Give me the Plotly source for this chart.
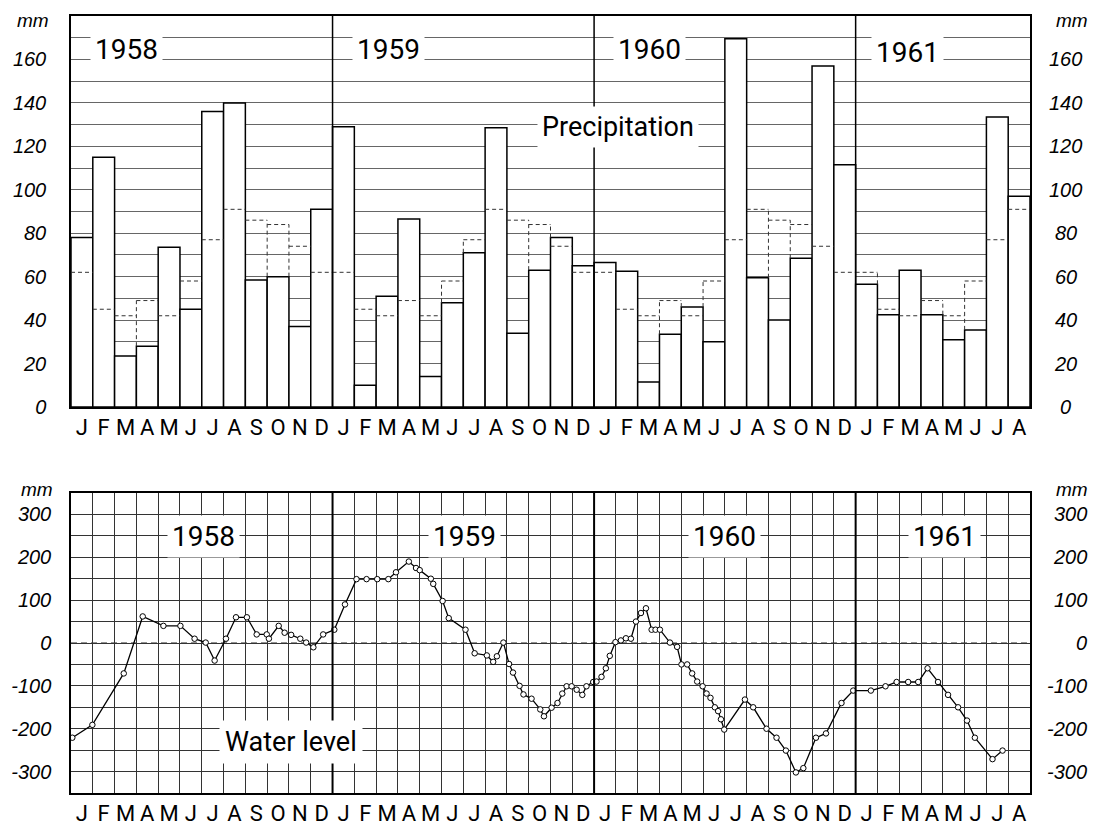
import plotly.graph_objects as go

# ---------------- data ----------------
MONTH_LETTERS = ["J", "F", "M", "A", "M", "J", "J", "A", "S", "O", "N", "D"]
month_labels = MONTH_LETTERS * 3 + MONTH_LETTERS[:8]          # Jan 1958 .. Aug 1961
years = ["1958", "1959", "1960", "1961"]

# monthly precipitation (mm)
precip_mm = [
    78, 115, 23.5, 28, 73.5, 45, 136, 140, 58.5, 60, 37, 91,        # 1958
    129, 10, 51, 86.5, 14, 48, 71, 128.5, 34, 63, 78, 65,           # 1959
    66.5, 62.5, 11.5, 33.5, 46, 30, 169.5, 59.5, 40, 68.5, 157, 111.5,  # 1960
    56.5, 42.5, 63, 42.5, 31, 35.5, 133.5, 97,                      # 1961
]
# long-term monthly normal precipitation (mm), Jan..Dec
normal_mm_by_month = [62, 45, 42, 49, 42, 58, 77, 91, 86, 84, 74, 62]

# water level: position in months since 1 Jan 1958, level in mm
wl_month = [
    0.06, 0.98, 2.42, 3.29, 4.24, 5.02, 5.67, 6.18, 6.59, 7.11, 7.57, 8.07, 8.52, 8.98,
    9.08, 9.53, 9.80, 10.10, 10.52, 10.79, 11.12, 11.57,
    12.08, 12.57, 13.10, 13.56, 14.05, 14.56, 14.91, 15.50, 15.83, 16.00, 16.51, 16.62,
    17.05, 17.33, 18.10, 18.52, 19.08, 19.37, 19.54, 19.84, 20.10, 20.28, 20.58, 20.76,
    21.13, 21.53, 21.70, 22.05, 22.32, 22.54, 22.74, 22.97, 23.20, 23.46, 23.65, 23.96,
    24.11, 24.34, 24.54, 24.72, 24.98, 25.23, 25.46, 25.69, 25.92, 26.15, 26.38, 26.64,
    26.82, 27.02, 27.48, 27.81, 28.01, 28.27, 28.50, 28.73, 28.98, 29.16, 29.34, 29.54,
    29.69, 29.82, 29.97, 30.92, 31.30, 31.91, 32.37, 32.80, 33.26, 33.60, 34.18, 34.64,
    35.35, 35.89, 36.70, 37.37, 37.88, 38.41, 38.87, 39.30, 39.78, 40.24, 40.70, 41.11,
    41.47, 42.28, 42.74,
]
wl_mm = [
    -221, -191, -71, 62, 40, 40, 10, 1, -41, 10, 60, 60, 20, 20,
    10, 40, 24, 19, 10, 1, -10, 20,
    31, 90, 149, 149, 149, 149, 165, 190, 175, 170, 150, 138,
    98, 58, 31, -24, -29, -44, -31, 1, -49, -69, -100, -120,
    -130, -155, -171, -151, -140, -118, -101, -101, -109, -121, -101, -91,
    -90, -79, -59, -30, 2, 6, 11, 10, 50, 70, 81, 31,
    31, 31, 1, -9, -50, -50, -71, -90, -101, -118, -128, -150,
    -159, -178, -202, -132, -150, -200, -221, -251, -302, -292, -221, -211,
    -140, -111, -111, -101, -91, -91, -91, -59, -91, -121, -150, -181,
    -221, -271, -251,
]

precip_ticks = [0, 20, 40, 60, 80, 100, 120, 140, 160]
level_ticks = [-300, -200, -100, 0, 100, 200, 300]

# label anchor positions (month position, value)
top_year_pos = [(2.55, 164.5), (14.55, 164.5), (26.56, 164.5), (38.4, 163)]
low_year_pos = [(6.1, 248), (18.07, 248), (30.0, 248), (40.06, 248)]

# ---------------- figure ----------------
n = len(precip_mm)
month_pos = [i + 0.5 for i in range(n)]
normal_series = [normal_mm_by_month[i % 12] for i in range(n)]
year_bounds = [12 * k for k in range(1, len(years))]

TXT = "Roboto"
NUM = "Liberation Sans"
num_font = dict(family=NUM, size=20, color="black", style="italic")
month_font = dict(family=TXT, size=22, color="black")
year_font = dict(family=TXT, size=28, color="black")


def ital(s):
    return "<i>" + s + "</i>"


fig = go.Figure()

# precipitation bars
fig.add_trace(go.Bar(
    x=month_pos, y=precip_mm, width=1.0,
    marker=dict(color="white", line=dict(color="black", width=1.5)),
    xaxis="x", yaxis="y", hoverinfo="skip",
))

# dashed normal outlines
nx, ny = [], []
for i, nv in enumerate(normal_series):
    nx += [i, i + 1, None]
    ny += [nv, nv, None]
for k in range(1, n):
    bar_top = max(precip_mm[k - 1], precip_mm[k])
    norm_top = max(normal_series[k - 1], normal_series[k])
    if norm_top > bar_top:
        nx += [k, k, None]
        ny += [bar_top, norm_top, None]
fig.add_trace(go.Scatter(
    x=nx, y=ny, mode="lines", connectgaps=False,
    line=dict(color="#333", width=1, dash="4px,3px"),
    xaxis="x", yaxis="y", hoverinfo="skip",
))

# water level line
fig.add_trace(go.Scatter(
    x=wl_month, y=wl_mm, mode="lines+markers",
    line=dict(color="black", width=1.3),
    marker=dict(symbol="circle", size=5.5, color="white", line=dict(color="black", width=1)),
    xaxis="x2", yaxis="y2", hoverinfo="skip",
))

axis_common = dict(showline=True, mirror=True, linecolor="black", linewidth=1.5,
                   ticks="", zeroline=False, automargin=False, fixedrange=True)

fig.update_layout(
    template="none",
    width=1093, height=829,
    margin=dict(l=71, r=63, t=16, b=36),
    paper_bgcolor="white", plot_bgcolor="white",
    showlegend=False,
    xaxis=dict(domain=[0, 1], anchor="y", range=[0, n],
               tickmode="array", tickvals=month_pos, ticktext=month_labels,
               tickfont=month_font, showgrid=False, **axis_common),
    yaxis=dict(domain=[0.4968, 1], anchor="x", range=[0, 180],
               tickmode="array", tickvals=precip_ticks,
               ticktext=[ital(str(v)) for v in precip_ticks],
               tickfont=num_font, ticklabelstandoff=19,
               showgrid=True, gridcolor="#666", gridwidth=1,
               minor=dict(tick0=0, dtick=10, showgrid=True, gridcolor="#666", gridwidth=1),
               **axis_common),
    xaxis2=dict(domain=[0, 1], anchor="y2", range=[0, n],
                tickmode="array", tickvals=month_pos, ticktext=month_labels,
                tickfont=month_font, showgrid=False,
                minor=dict(tick0=0, dtick=1, showgrid=True, gridcolor="#333", gridwidth=1),
                **axis_common),
    yaxis2=dict(domain=[0, 0.3861], anchor="x2", range=[-350, 350],
                tickmode="array", tickvals=level_ticks,
                ticktext=[ital(str(v)) for v in level_ticks],
                tickfont=num_font, ticklabelstandoff=14,
                showgrid=True, gridcolor="#333", gridwidth=1,
                minor=dict(tick0=0, dtick=50, showgrid=True, gridcolor="#333", gridwidth=1),
                **axis_common),
)

shapes = []
# dashed zero line of water level
shapes.append(dict(type="line", xref="x2 domain", yref="y2", x0=0, x1=1, y0=0, y1=0,
                   line=dict(color="white", width=1.5), layer="below"))
shapes.append(dict(type="line", xref="x2 domain", yref="y2", x0=0, x1=1, y0=0, y1=0,
                   line=dict(color="#222", width=1, dash="6px,4px"), layer="below"))
# year boundaries
for b in year_bounds:
    shapes.append(dict(type="line", xref="x", yref="y domain", x0=b, x1=b, y0=0, y1=1,
                       line=dict(color="black", width=1.5), layer="above"))
    shapes.append(dict(type="line", xref="x2", yref="y2 domain", x0=b, x1=b, y0=0, y1=1,
                       line=dict(color="black", width=2), layer="above"))
fig.update_layout(shapes=shapes)

ann = []
for yr, (xp, yp) in zip(years, top_year_pos):
    ann.append(dict(x=xp, y=yp, xref="x", yref="y", text=yr, showarrow=False,
                    font=year_font, bgcolor="white", borderpad=4))
for yr, (xp, yp) in zip(years, low_year_pos):
    ann.append(dict(x=xp, y=yp, xref="x2", yref="y2", text=yr, showarrow=False,
                    font=year_font, bgcolor="white", borderpad=4))
ann.append(dict(x=25.1, y=129, xref="x", yref="y", text="Precipitation", showarrow=False,
                font=dict(family=TXT, size=27, color="black"), bgcolor="white", borderpad=4))
ann.append(dict(x=10.1, y=-232, xref="x2", yref="y2", text="Water level", showarrow=False,
                font=dict(family=TXT, size=27, color="black"), bgcolor="white", borderpad=5))
# "mm" unit labels
mm_font = dict(family=NUM, size=19, color="black", style="italic")
for xp, yp in [(-0.0396, 0.9936), (1.0438, 0.9936), (-0.0355, 0.3912), (1.0438, 0.3912)]:
    ann.append(dict(x=xp, y=yp, xref="paper", yref="paper", text=ital("mm"), showarrow=False,
                    font=mm_font, xanchor="center", yanchor="middle"))
# right-hand tick labels
for v in precip_ticks:
    ann.append(dict(x=1.0375, y=v, xref="paper", yref="y", text=ital(str(v)), showarrow=False,
                    font=num_font, xanchor="center", yanchor="middle"))
for v in level_ticks:
    ann.append(dict(x=1.0615, y=v, xref="paper", yref="y2", text=ital(str(v)), showarrow=False,
                    font=num_font, xanchor="right", yanchor="middle"))
fig.update_layout(annotations=ann)

fig.write_html("out.html")
